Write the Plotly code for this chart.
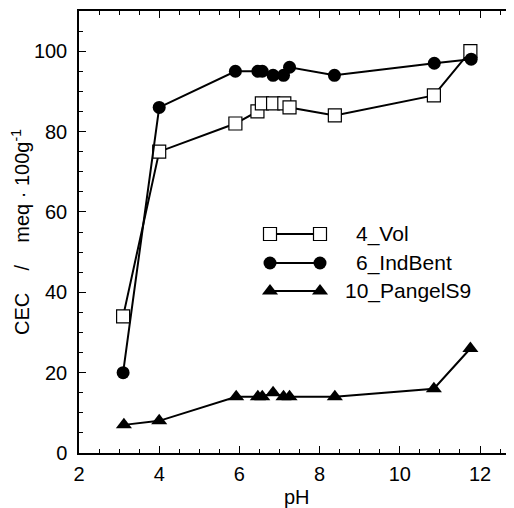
import plotly.graph_objects as go

# ---- data ----
ph_vol = [3.1, 4.0, 5.9, 6.45, 6.56, 6.84, 7.12, 7.25, 8.38, 10.85, 11.76]
cec_vol = [34, 75, 82, 85, 87, 87, 87, 86, 84, 89, 100]

ph_ind = [3.1, 4.0, 5.9, 6.46, 6.57, 6.84, 7.1, 7.25, 8.37, 10.86, 11.78]
cec_ind = [20, 86, 95, 95, 95, 94, 94, 96, 94, 97, 98]

ph_pan = [3.12, 4.0, 5.92, 6.46, 6.57, 6.84, 7.1, 7.25, 8.38, 10.85, 11.76]
cec_pan = [7, 8, 14, 14, 14, 15, 14, 14, 14, 16, 26]

series_names = ["4_Vol", "6_IndBent", "10_PangelS9"]
x_tickvals = [2, 4, 6, 8, 10, 12]
y_tickvals = [0, 20, 40, 60, 80, 100]

FONT = "Liberation Sans, Arial, sans-serif"
OFF = 8  # page body margin
W, H = 506, 500
ML, MR, MT, MB = 71, 0, 3, 55
PLOT_H = H - MT - MB

styles = [
    dict(symbol="square", size=13, color="white", line=dict(color="black", width=1.2)),
    dict(symbol="circle", size=13, color="black", line=dict(color="black", width=0)),
    dict(symbol="triangle-up", size=14, color="black", line=dict(color="black", width=0)),
]

fig = go.Figure()
for xs, ys, st, nm in zip([ph_vol, ph_ind, ph_pan], [cec_vol, cec_ind, cec_pan], styles, series_names):
    fig.add_trace(go.Scatter(x=xs, y=ys, mode="lines+markers", name=nm,
                             line=dict(color="black", width=2), marker=st,
                             showlegend=False, cliponaxis=False))

# ---- hand-drawn legend on a pixel-space overlay axis (window pixel coords) ----
leg_rows = [234, 263, 291]
leg_text_x = [354, 354, 343]
for st, nm, ry, tx in zip(styles, series_names, leg_rows, leg_text_x):
    fig.add_trace(go.Scatter(x=[270, 320], y=[ry, ry], mode="lines+markers",
                             line=dict(color="black", width=2), marker=st,
                             xaxis="x2", yaxis="y2", showlegend=False, hoverinfo="skip"))
    fig.add_annotation(x=tx, y=ry, xref="x2", yref="y2", text=nm, showarrow=False,
                       xanchor="left", yanchor="middle", font=dict(size=21, color="black", family=FONT))

# x-axis title placed as paper annotation (center at window y ~497)
ph_y = -((497 - OFF) - (H - MB)) / PLOT_H
fig.add_annotation(x=0.5, y=ph_y, xref="paper", yref="paper", text="pH", showarrow=False,
                   xanchor="center", yanchor="middle", font=dict(size=20, color="black", family=FONT))

sp = "\u00a0" * 4
fig.update_layout(
    width=W, height=H,
    margin=dict(l=ML, r=MR, t=MT, b=MB),
    paper_bgcolor="white", plot_bgcolor="white",
    font=dict(family=FONT, size=20, color="black"),
    xaxis=dict(
        range=[2, 2 + (W - ML - MR) / 40.1], automargin=False,
        tickvals=x_tickvals, ticks="inside", ticklen=7, tickwidth=1, tickcolor="black",
        minor=dict(dtick=0.5, ticks="inside", ticklen=4, tickwidth=1, tickcolor="black"),
        showline=True, linecolor="black", linewidth=1.5, mirror="ticks",
        showgrid=False, zeroline=False,
        tickfont=dict(size=20), ticklabelstandoff=2,
    ),
    yaxis=dict(
        range=[0, 110], automargin=False,
        tickvals=y_tickvals, ticks="inside", ticklen=7, tickwidth=1, tickcolor="black",
        minor=dict(dtick=5, ticks="inside", ticklen=4, tickwidth=1, tickcolor="black"),
        showline=True, linecolor="black", linewidth=1.5, mirror=False,
        showgrid=False, zeroline=False,
        title=dict(text="CEC" + sp + "/" + sp + "meq \u00b7 100g<sup>-1</sup>", font=dict(size=20), standoff=0),
        tickfont=dict(size=20), ticklabelstandoff=6,
    ),
    xaxis2=dict(domain=[0, 1], range=[ML + OFF, W - MR + OFF], overlaying="x", visible=False, anchor="y2"),
    yaxis2=dict(domain=[0, 1], range=[H - MB + OFF, MT + OFF], overlaying="y", visible=False, anchor="x2"),
)

fig.write_html("out.html")
